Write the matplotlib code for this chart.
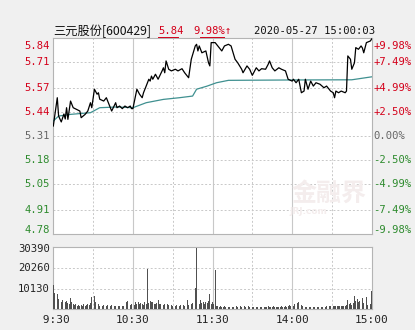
import matplotlib
matplotlib.use("Agg")
import matplotlib.pyplot as plt
from matplotlib.transforms import offset_copy

# ---------------- data ----------------
prev_close = 5.31
price_ticks = [4.78, 4.91, 5.05, 5.18, 5.31, 5.44, 5.57, 5.71, 5.84]
pct_labels = ["-9.98%", "-7.49%", "-4.99%", "-2.50%", "0.00%", "+2.50%", "+4.99%", "+7.49%", "+9.98%"]
vol_ticks = [10130, 20260, 30390]
time_labels = [" 9:30", "10:30", "11:30", "14:00", "15:00"]
time_pos = [0, 60, 120, 180, 240]

price_min = [0, 3, 4, 6, 8, 9, 10, 11, 13, 15, 20, 21, 24, 26, 28, 29, 31, 33, 34, 35,
             38, 40, 42, 44, 47, 48, 50, 52, 54, 56, 58, 59, 60, 63, 65, 67, 68, 70, 72, 73,
             74, 75, 77, 79, 82, 83, 84, 85, 87, 89, 92, 94, 97, 99, 102, 104, 107, 108, 109, 110,
             112, 115, 117, 118, 119, 122, 124, 127, 129, 132, 134, 137, 139, 142, 143, 146, 148, 150, 153, 155,
             157, 160, 162, 163, 165, 167, 170, 172, 175, 177, 180, 181, 183, 185, 187, 189, 190, 192, 194, 196,
             198, 201, 204, 206, 209, 211, 212, 213, 215, 217, 220, 221, 222, 224, 225, 227, 228, 230, 232, 233,
             234, 236, 239, 240]
price_val = [5.364, 5.517, 5.418, 5.386, 5.429, 5.402, 5.463, 5.400, 5.499, 5.463, 5.445, 5.409, 5.427, 5.445, 5.490, 5.463, 5.563, 5.536, 5.544, 5.509,
             5.499, 5.517, 5.481, 5.445, 5.490, 5.463, 5.472, 5.458, 5.472, 5.463, 5.472, 5.458, 5.458, 5.563, 5.536, 5.517, 5.544, 5.580, 5.617, 5.607,
             5.634, 5.617, 5.644, 5.617, 5.662, 5.679, 5.652, 5.716, 5.671, 5.662, 5.671, 5.662, 5.674, 5.652, 5.625, 5.725, 5.797, 5.806, 5.770, 5.797,
             5.760, 5.770, 5.706, 5.689, 5.815, 5.815, 5.797, 5.770, 5.797, 5.806, 5.797, 5.725, 5.706, 5.671, 5.652, 5.689, 5.671, 5.638, 5.679, 5.662,
             5.674, 5.671, 5.698, 5.716, 5.679, 5.662, 5.679, 5.671, 5.662, 5.617, 5.607, 5.617, 5.598, 5.617, 5.544, 5.553, 5.617, 5.563, 5.607, 5.580,
             5.598, 5.590, 5.571, 5.580, 5.553, 5.544, 5.517, 5.553, 5.544, 5.553, 5.544, 5.553, 5.743, 5.725, 5.671, 5.706, 5.788, 5.779, 5.797, 5.786,
             5.760, 5.815, 5.824, 5.835]

avg_min = [0, 4, 13, 28, 35, 48, 60, 70, 83, 95, 105, 108, 116, 123, 132, 180, 225, 240]
avg_val = [5.391, 5.418, 5.427, 5.436, 5.463, 5.467, 5.463, 5.490, 5.508, 5.517, 5.526, 5.563, 5.580, 5.598, 5.611, 5.613, 5.614, 5.630]

volume = [12000, 8000, 9000, 7500, 5000, 5800, 3500, 4500, 3000, 3600,
          4000, 3000, 2500, 5400, 3800, 2800, 2000, 2400, 1800, 2000,
          1600, 2200, 1800, 2400, 1600, 2000, 2600, 1900, 3200, 6000,
          2500, 6500, 3500, 2000, 2800, 1800, 2200, 1500, 2000, 1600,
          1800, 2200, 1500, 1800, 2000, 1400, 1600, 1800, 1500, 1700,
          1400, 1900, 1600, 1500, 1800, 3500, 4200, 2400, 2000, 2600,
          3000, 2200, 3600, 2800, 3400, 2500, 3000, 2600, 2200, 3800,
          2600, 19600, 3200, 4200, 3400, 3600, 2800, 2600, 3300, 4500,
          2800, 2400, 3000, 2200, 2600, 3000, 2400, 2000, 2600, 2200,
          1800, 2200, 1600, 2000, 1800, 1500, 2000, 1800, 2200, 1600,
          2400, 4500, 2000, 2600, 2400, 3000, 2200, 10600, 30000, 3600,
          2800, 4500, 3000, 3400, 2600, 3600, 3000, 4000, 7300, 2800,
          3500, 2400, 19100, 1600, 1400, 1200, 1500, 1300, 1200, 1400,
          1200, 1400, 1300, 1100, 1600, 1300, 1200, 1500, 1400, 1200,
          1300, 1500, 1200, 1400, 1700, 1300, 1200, 1500, 1300, 1400,
          1200, 1300, 1600, 1200, 1100, 1400, 1300, 1200, 1500, 1200,
          1300, 1200, 1400, 1100, 1300, 1200, 1400, 1300, 1200, 1100,
          1300, 1200, 1400, 1300, 1200, 1500, 1300, 1600, 2200, 1800,
          2500, 1800, 2800, 2200, 3000, 3500, 2400, 2000, 1600, 1400,
          1300, 1200, 1500, 1300, 1200, 1400, 1300, 1200, 1500, 1300,
          1200, 1400, 1300, 1100, 1300, 1200, 1400, 1300, 1500, 1400,
          3600, 1800, 1500, 1700, 1400, 1600, 1500, 1800, 1600, 1500,
          1800, 2000, 4600, 2400, 3000, 2200, 3200, 6600, 4000, 5200,
          3600, 4200, 2600, 5400, 3000, 2200, 6000, 2000, 1800, 2500,
          9000]
vol_min = list(range(len(volume)))

title_name = "三元股份[600429]"
title_price = "5.84"
title_pct = "9.98%↑"
title_time = "2020-05-27 15:00:03"

# ---------------- style ----------------
RED = "#d4001a"
GREEN = "#2e8b2e"
GRAY = "#666666"
GRID = "#c8c8c8"
MONO = "DejaVu Sans Mono"
FS = 7.6

fig = plt.figure(figsize=(4.15, 3.30), dpi=100)
fig.patch.set_facecolor("#f0f0f0")

W, H = 415.0, 330.0
def axrect(x0, y0, x1, y1):
    return [x0 / W, 1 - y1 / H, (x1 - x0) / W, (y1 - y0) / H]

ax = fig.add_axes(axrect(53.3, 38, 371.7, 234))
axv = fig.add_axes(axrect(53.3, 247.3, 371.7, 309.3))

for a in (ax, axv):
    a.set_facecolor("white")
    a.set_xlim(0, 240)
    for s in a.spines.values():
        s.set_color("#b4b4b4")
        s.set_linewidth(0.8)
    a.set_xticks([])
    a.set_yticks([])
    for m in (30, 90, 150, 210):
        a.axvline(m, color=GRID, lw=0.7, ls=(0, (2, 2)), zorder=0)
    for m in (60, 120, 180):
        a.axvline(m, color=GRID, lw=0.8, zorder=0)

ax.set_ylim(price_ticks[0], price_ticks[-1])
for p in price_ticks[1:-1]:
    ax.axhline(p, color=GRID, lw=0.7, ls=(0, (2, 2)), zorder=0)

# watermark
ax.text(0.865, 0.205, "金融界", transform=ax.transAxes, ha="center", va="center",
        fontsize=18, fontweight="bold", color="#f4eded",
        family=["Noto Sans CJK SC", "DejaVu Sans"], zorder=1)
ax.text(0.80, 0.115, "JRJ.com", transform=ax.transAxes, ha="center", va="center",
        fontsize=6.5, fontweight="bold", color="#f4eded", zorder=1)

ax.plot(avg_min, avg_val, color="#3f9090", lw=0.9, zorder=3)
ax.plot(price_min, price_val, color="black", lw=0.9, zorder=4)

# price labels
ytr = ax.get_yaxis_transform()
for i, (p, lab) in enumerate(zip(price_ticks, pct_labels)):
    if p > prev_close + 1e-6:
        c = RED
    elif p < prev_close - 1e-6:
        c = GREEN
    else:
        c = GRAY
    dy = 0
    if i == len(price_ticks) - 1:
        dy = -5.5
    elif i == 0:
        dy = 3
    trl = offset_copy(ytr, fig=fig, x=-2.5, y=dy, units="points")
    trr = offset_copy(ytr, fig=fig, x=1.0, y=dy, units="points")
    ax.text(0, p, f"{p:.2f}", transform=trl, ha="right", va="center",
            color=c, fontsize=FS, family=MONO)
    ax.text(1, p, lab, transform=trr, ha="left", va="center",
            color=c, fontsize=FS, family=MONO)

# volume
axv.set_ylim(0, vol_ticks[-1])
for v in vol_ticks[:-1]:
    axv.axhline(v, color=GRID, lw=0.7, ls=(0, (2, 2)), zorder=0)
axv.bar(vol_min, volume, width=0.6, color="#505050", zorder=3)
vtr = axv.get_yaxis_transform()
for v in vol_ticks:
    dy = -1 if v == vol_ticks[-1] else 0
    axv.text(0, v, str(v), transform=offset_copy(vtr, fig=fig, x=-2.5, y=dy, units="points"),
             ha="right", va="center", color="#222222", fontsize=FS, family=MONO)

xtr = axv.get_xaxis_transform()
for t, lab in zip(time_pos, time_labels):
    axv.text(t, 0, lab, transform=offset_copy(xtr, fig=fig, y=-7.5, units="points"),
             ha="center", va="center", color="#222222", fontsize=FS + 0.4, family=MONO)

# title row
ty = 1 - 31.5 / H
fig.text(53.3 / W, ty, title_name, ha="left", va="center", fontsize=8.8,
         family=["Noto Sans CJK SC", "DejaVu Sans"], color="#111111")
fig.text(158 / W, ty, title_price, ha="left", va="center", fontsize=FS,
         family=MONO, color=RED)
fig.text(193 / W, ty, title_pct, ha="left", va="center", fontsize=FS,
         family=[MONO, "DejaVu Sans"], color=RED)
fig.text(375 / W, ty, title_time, ha="right", va="center", fontsize=FS,
         family=MONO, color="#111111")
fig.add_artist(plt.Line2D([158 / W, 178 / W], [1 - 37 / H, 1 - 37 / H], color=RED, lw=0.7))
fig.add_artist(plt.Line2D([200 / W, 224 / W], [1 - 37 / H, 1 - 37 / H], color=RED, lw=0.7))

fig.savefig("out.png", dpi=100, facecolor=fig.get_facecolor())
